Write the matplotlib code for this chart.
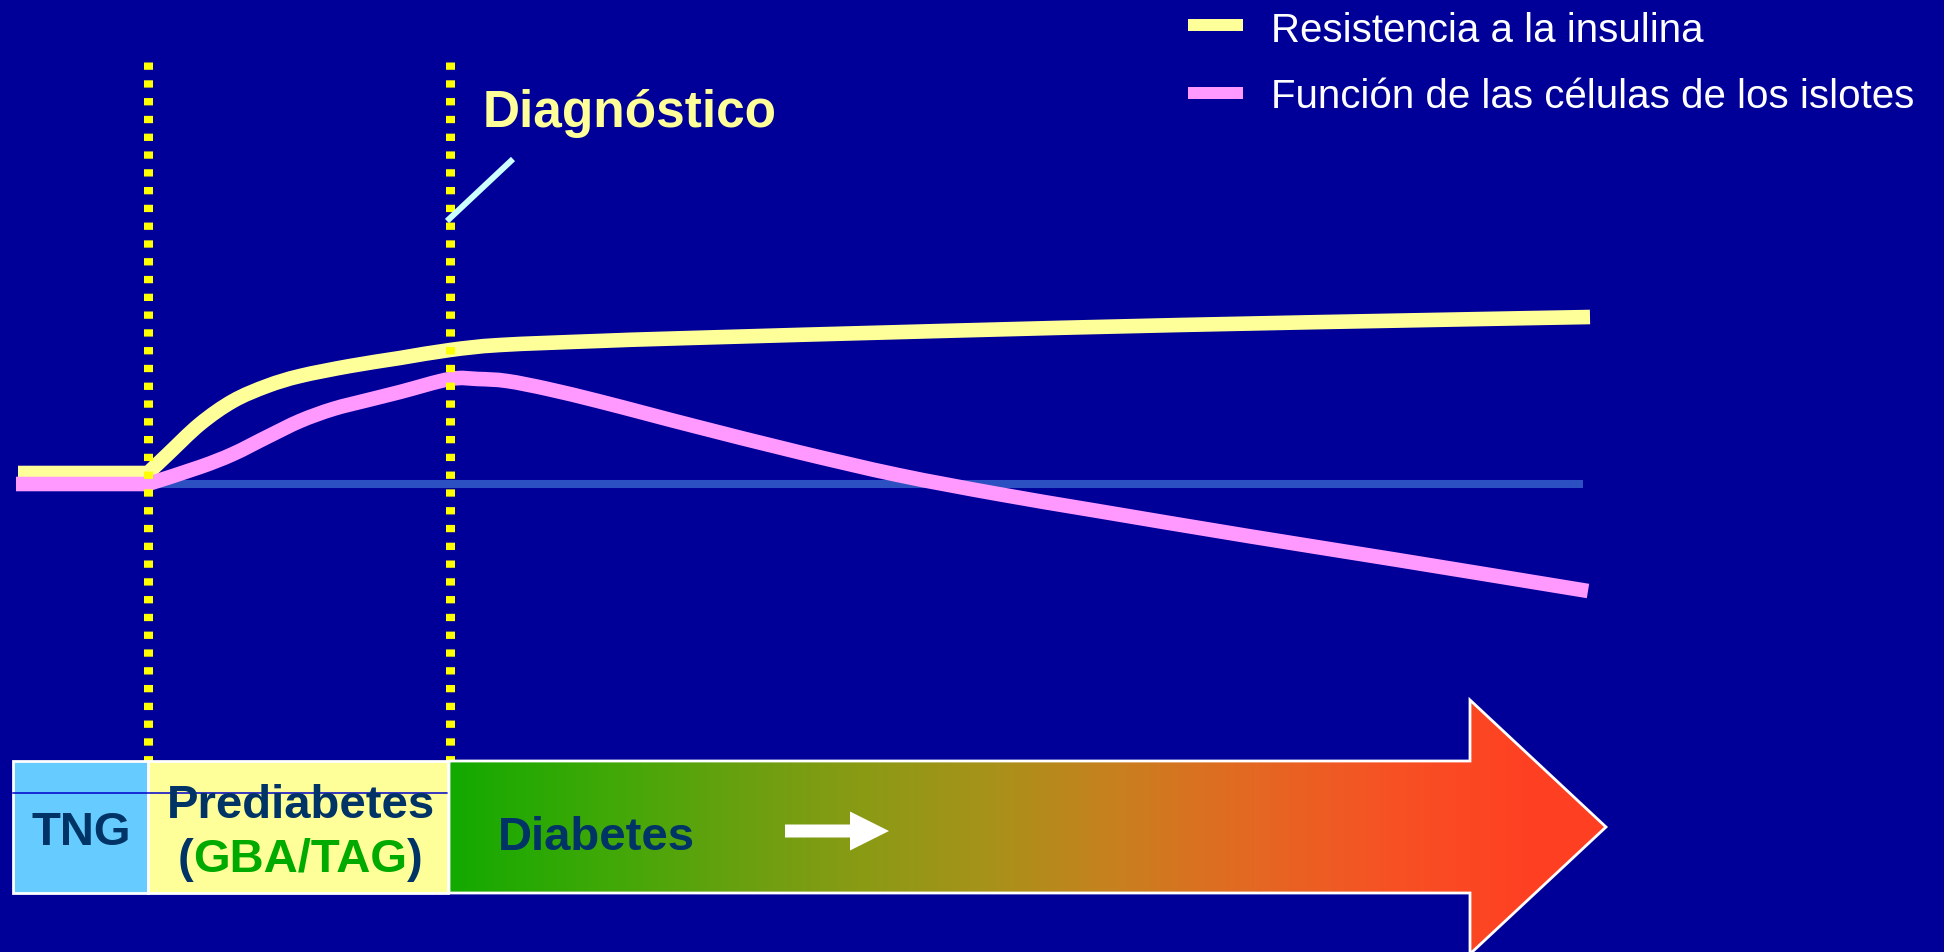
import numpy as np
import matplotlib.pyplot as plt
from matplotlib.colors import LinearSegmentedColormap
from matplotlib.patches import Rectangle, Polygon, FancyArrow, PathPatch
from matplotlib.path import Path

plt.rcParams['font.family'] = ['Liberation Sans', 'DejaVu Sans']

# time runs left to right (0 = onset of prediabetes), level is relative to baseline
series_names = ['Resistencia a la insulina', 'Función de las células de los islotes']
series_colors = ['#FFFF99', '#FF99FF']

resist_t = [-1.30, 0.0, 0.19, 0.52, 0.85, 1.19, 1.52, 2.02, 2.52, 3.02, 3.52,
            4.50, 5.42, 7.92, 10.32, 12.82, 14.42]
resist_y = [0.11, 0.11, 0.29, 0.60, 0.83, 0.98, 1.08, 1.18, 1.26, 1.34, 1.39,
            1.43, 1.46, 1.53, 1.59, 1.64, 1.67]

islet_t = [-1.32, 0.0, 0.52, 0.85, 1.19, 1.52, 1.85, 2.20, 2.52, 3.02, 3.30,
           3.59, 4.00, 4.50, 5.00, 5.50, 6.50, 7.50, 8.50, 9.50, 11.00, 12.50,
           14.40]
islet_y = [0.0, 0.0, 0.17, 0.30, 0.47, 0.63, 0.75, 0.84, 0.92, 1.05, 1.05,
           1.03, 0.95, 0.83, 0.70, 0.57, 0.32, 0.09, -0.10, -0.27, -0.52, -0.76,
           -1.07]

event_t = [0.0, 3.02]          # onset of prediabetes, diagnosis
diag_label = 'Diagnóstico'

stage_labels = ['TNG', 'Prediabetes', 'Diabetes']
stage_sub = 'GBA/TAG'
stage_edges = [-1.35, 0.0, 3.01, 13.22]

bg = '#000099'
navy = '#003366'


def smooth_path(t, y):
    # flat lead-in, then a Catmull-Rom curve through the remaining points
    pts = np.column_stack([t, y])
    verts = [pts[0], pts[1]]
    codes = [Path.MOVETO, Path.LINETO]
    n = len(pts)
    for i in range(1, n - 1):
        p0 = pts[i - 1] if i > 1 else pts[i]
        p1, p2 = pts[i], pts[i + 1]
        p3 = pts[i + 2] if i + 2 < n else p2
        verts += [p1 + (p2 - p0) / 6, p2 - (p3 - p1) / 6, p2]
        codes += [Path.CURVE4] * 3
    return Path(verts, codes)


fig = plt.figure(figsize=(19.44, 9.53), dpi=100)
fig.patch.set_facecolor(bg)
ax = fig.add_axes([0, 0, 1, 1])
ax.set_facecolor(bg)
ax.axis('off')

# baseline
ax.plot([0.02, 14.35], [0, 0], color='#2c50c2', lw=5.8,
        solid_capstyle='butt', zorder=2)

# curves
for (t, y), col, z in zip([(resist_t, resist_y), (islet_t, islet_y)],
                          series_colors, [3, 4]):
    ax.add_patch(PathPatch(smooth_path(t, y), facecolor='none', edgecolor=col,
                           lw=10.5, capstyle='butt', joinstyle='round', zorder=z))

# dotted event markers
for t in event_t:
    ax.plot([t, t], [4.22, -4.08], color='#FFFF00', lw=6.5,
            dashes=(0.81, 1.16), dash_capstyle='butt', zorder=5)

ax.plot([event_t[1] - 0.03, event_t[1] + 0.63], [2.63, 3.25], color='#CCFFFF',
        lw=4.3, solid_capstyle='butt', zorder=6)
ax.text(event_t[1] + 0.33, 3.58, diag_label, fontsize=37, fontweight='bold',
        color='#FFFF99', ha='left', va='baseline', zorder=6)

# legend
for i, (name, col) in enumerate(zip(series_names, series_colors)):
    ax.add_patch(Rectangle((10.40, 4.53 - 0.68 * i), 0.55, 0.12,
                           facecolor=col, lw=0, zorder=6))
    ax.text(11.23, 4.43 - 0.66 * i, name, fontsize=29, color='white',
            ha='left', va='baseline', zorder=6)

# stage boxes
top, bot = -2.77, -4.09
ax.add_patch(Rectangle((stage_edges[0], bot), stage_edges[1] - stage_edges[0],
                       top - bot, facecolor='#66CCFF', edgecolor='white', lw=2, zorder=7))
ax.add_patch(Rectangle((stage_edges[1], bot), stage_edges[2] - 0.01 - stage_edges[1],
                       top - bot, facecolor='#FFFF99', edgecolor='white', lw=2, zorder=7))
ax.plot([stage_edges[0], stage_edges[2] - 0.01], [-3.09, -3.09], color='#0000CC',
        lw=1.1, zorder=8)

# diabetes arrow with green-to-red fill
x0, xb, xtip = stage_edges[2], stage_edges[3], 14.58
arrow_pts = [(x0, top), (xb, top), (xb, -2.16), (xtip, -3.43), (xb, -4.70),
             (xb, bot), (x0, bot)]
arrow = Polygon(arrow_pts, closed=True, facecolor='none', edgecolor='white',
                lw=2, zorder=8)
ax.add_patch(arrow)
stops_px = [449, 620, 744, 868, 992, 1116, 1240, 1400, 1540, 1606]
stops_c = ['#12AA00', '#44A808', '#6AA010', '#8C9A14', '#A8921A', '#C8801F',
           '#E26A22', '#F85024', '#FF3F22', '#FF3F22']
pos = [(p - stops_px[0]) / (stops_px[-1] - stops_px[0]) for p in stops_px]
cmap = LinearSegmentedColormap.from_list('stage', list(zip(pos, stops_c)))
grad = ax.imshow(np.linspace(0, 1, 512).reshape(1, -1), cmap=cmap, aspect='auto',
                 extent=[x0, xtip, -4.70, -2.16], interpolation='bilinear', zorder=7)
grad.set_clip_path(arrow)
ax.set_xlim(-1.48, 17.96)
ax.set_ylim(-4.68, 4.85)

bold = dict(fontsize=34, fontweight='bold', va='baseline', zorder=9)
ax.text(-0.67, -3.60, stage_labels[0], color=navy, ha='center', **bold)
ax.text(1.53, -3.33, stage_labels[1], color=navy, ha='center', **bold)
ax.text(4.48, -3.65, stage_labels[2], color=navy, ha='center', **bold)

renderer = fig.canvas.get_renderer()
mid = ax.text(1.52, -3.87, stage_sub, color='#00AA00', ha='center', **bold)
bb = mid.get_window_extent(renderer).transformed(ax.transData.inverted())
ax.text(bb.x0, -3.87, '(', color=navy, ha='right', **bold)
ax.text(bb.x1, -3.87, ')', color=navy, ha='left', **bold)

ax.add_patch(FancyArrow(6.37, -3.47, 1.04, 0, width=0.13, head_width=0.39,
                        head_length=0.39, length_includes_head=True,
                        color='white', lw=0, zorder=9))

fig.savefig('out.png', dpi=100, facecolor=bg)
